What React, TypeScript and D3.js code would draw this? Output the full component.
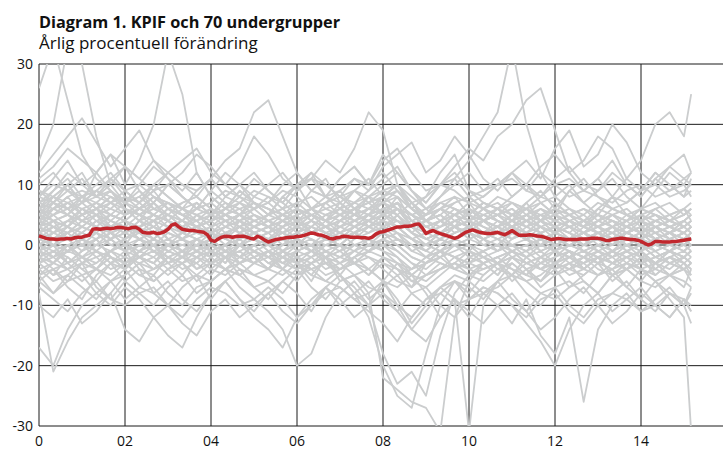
import React from 'react';
import * as d3 from 'd3';

// KPIF, annual % change, monthly from Jan 2000
const kpif = [
  1.5, 1.3, 1.1, 1.0, 1.0, 0.9, 1.0, 1.0, 1.1, 1.0, 1.2, 1.3,
  1.3, 1.5, 1.6, 2.6, 2.7, 2.6, 2.7, 2.8, 2.7, 2.8, 2.95, 2.9,
  2.8, 2.7, 2.9, 2.95, 2.6, 2.1, 2.0, 2.0, 2.1, 1.9, 2.0, 2.2,
  2.6, 3.3, 3.5, 3.0, 2.6, 2.5, 2.4, 2.4, 2.3, 2.2, 2.1, 1.7,
  0.8, 0.6, 1.0, 1.3, 1.45, 1.4, 1.3, 1.4, 1.45, 1.45, 1.3, 1.1,
  1.0, 1.45, 1.2, 0.8, 0.5, 0.7, 0.9, 1.0, 1.1, 1.2, 1.3, 1.3,
  1.4, 1.45, 1.6, 1.8, 2.0, 1.9, 1.7, 1.6, 1.4, 1.1, 1.0, 1.2,
  1.3, 1.45, 1.4, 1.3, 1.3, 1.3, 1.2, 1.2, 1.1, 1.3, 1.8, 2.1,
  2.2, 2.4, 2.6, 2.8, 3.0, 3.0, 3.1, 3.1, 3.2, 3.4, 3.5, 2.8,
  1.9, 2.2, 2.4, 2.1, 1.9, 1.7, 1.5, 1.3, 1.1, 1.3, 1.7, 2.1,
  2.3, 2.5, 2.3, 2.1, 2.0, 1.9, 1.9, 2.0, 2.1, 1.9, 1.7, 2.0,
  2.4, 2.0, 1.6, 1.6, 1.6, 1.7, 1.6, 1.5, 1.45, 1.3, 1.1, 0.9,
  1.0, 1.1, 1.0, 0.9, 0.9, 0.9, 0.9, 1.0, 1.0, 1.0, 1.1, 1.1,
  1.1, 1.0, 0.8, 0.75, 0.9, 1.0, 1.1, 1.1, 1.0, 0.9, 0.9, 0.8,
  0.6, 0.3, 0.0, 0.2, 0.6, 0.6, 0.5, 0.5, 0.5, 0.6, 0.6, 0.7,
  0.8, 0.9, 1.0,
];

// subgroups are read every fourth month (Jan, May, Sep) plus Mar 2015
const subMonths = [...d3.range(0, 181, 4), 182];

const sub01 = [3,4,5,4,6,5,4,3,4,5,3,2,1,2,3,2, 3,4,3,2,3,4,5,4,6,5,2,1,2,3,4,3, 2,3,2,1,2,1,0,1,2,1,0,1,2,1,2];
const sub02 = [-1,0,1,2,1,3,2,1,0,-1,0,1,2,1,0,1, 0,-1,-2,-1,0,1,2,3,4,3,1,0,-1,0,1,2, 1,0,-1,0,1,0,-1,-2,-1,0,-1,0,1,0,-1];
const sub03 = [5,6,7,8,7,6,5,6,7,5,4,3,4,5,4,3, 4,5,6,5,4,5,6,7,8,6,4,3,4,5,6,5, 4,3,4,5,4,3,2,3,4,3,2,3,4,3,4];
const sub04 = [-3,-2,-4,-3,-2,-1,-2,-3,-4,-2,-1,0,-1,-2,-3,-2, -1,-2,-3,-4,-3,-2,-1,-2,-3,-5,-4,-2,-1,-2,-3,-4, -3,-2,-3,-4,-5,-4,-3,-2,-3,-4,-3,-2,-3,-4,-3];
const sub05 = [2,1,3,2,4,3,2,4,3,2,1,0,2,1,3,2, 1,2,1,3,2,1,2,3,2,3,4,2,1,3,2,1, 2,3,1,2,3,2,1,2,1,2,3,1,2,1,1];
const sub06 = [7,8,6,7,9,8,6,5,6,7,6,5,4,5,6,7, 6,5,4,5,6,7,5,4,6,7,5,3,4,6,5,4, 5,6,4,3,4,5,6,5,4,3,5,6,4,5,6];
const sub07 = [0,-2,-1,1,0,-1,-3,-2,0,1,-1,-2,0,-1,-2,0, 1,-1,0,2,1,0,-1,1,2,0,-2,-3,-1,0,-2,-1, 0,-1,-2,0,-1,-2,-1,0,-2,-1,-3,-2,-1,-2,-1];
const sub08 = [4,3,2,3,5,4,3,1,2,4,3,2,1,3,2,4, 3,2,3,4,2,3,5,6,5,7,3,2,3,4,3,2, 3,4,2,3,2,1,2,3,1,2,3,2,1,2,3];
const sub09 = [-5,-4,-3,-5,-4,-2,-3,-5,-6,-4,-3,-2,-4,-5,-3,-2, -4,-5,-3,-2,-4,-3,-5,-4,-2,-3,-6,-5,-3,-4,-5,-3, -2,-4,-5,-3,-4,-2,-3,-5,-4,-3,-5,-4,-2,-3,-4];
const sub10 = [1,2,4,3,2,0,1,2,3,1,0,-1,1,2,0,1, 2,3,1,0,2,1,3,4,2,1,0,-1,1,2,3,1, 0,2,1,-1,0,1,2,0,1,-1,0,1,2,0,1];
const sub11 = [6,5,7,6,4,5,7,8,6,5,3,4,2,3,5,4, 3,2,4,5,3,4,6,5,7,8,4,2,3,5,6,4, 3,5,6,4,2,3,4,2,3,5,4,2,3,4,5];
const sub12 = [-2,-1,0,-2,-3,-1,0,1,-1,-2,-4,-3,-1,0,-2,-3, -2,0,1,-1,-2,-3,-1,0,1,-1,-3,-4,-2,-1,0,-2, -3,-1,0,-2,-3,-4,-2,-1,-3,-2,-1,-3,-4,-2,-3];
const sub13 = [3,5,6,4,3,5,4,2,3,5,4,3,2,4,5,3, 2,4,3,5,4,2,3,5,4,6,5,3,4,2,3,4, 5,3,2,4,3,1,2,4,3,2,1,3,2,4,3];
const sub14 = [0,1,-1,0,2,1,-1,0,1,-1,-2,0,1,-1,0,2, 1,-1,0,1,-1,0,2,1,3,2,0,-1,1,0,-1,1, 2,0,-1,1,0,-1,-2,0,1,-1,0,-2,-1,0,1];
const sub15 = [8,7,6,8,9,7,5,6,8,7,5,4,6,5,3,4, 5,6,4,3,5,6,7,6,8,9,6,4,5,7,8,6, 5,4,6,5,3,4,5,3,4,2,3,4,3,2,3];
const sub16 = [-4,-3,-1,-2,-4,-5,-3,-2,-4,-3,-1,-2,-3,-4,-2,-1, -3,-4,-5,-3,-2,-1,-3,-4,-6,-7,-5,-3,-2,-4,-3,-2, -4,-5,-3,-2,-1,-3,-4,-2,-1,-3,-4,-5,-3,-2,-3];
const sub17 = [2,3,1,2,4,2,1,3,5,4,2,1,0,2,3,1, 0,1,3,2,1,0,2,4,3,5,2,1,0,2,3,2, 1,2,4,3,1,0,1,2,0,1,2,0,-1,0,1];
const sub18 = [5,4,3,5,6,8,7,5,4,6,5,3,4,6,7,5, 4,3,5,6,4,3,4,5,6,4,3,5,6,4,5,7, 6,4,3,5,4,3,2,4,5,3,2,4,5,3,4];
const sub19 = [-1,1,2,0,-1,1,3,2,0,-2,-1,1,0,-1,1,2, 0,-2,-1,0,1,2,0,-1,1,2,1,-1,-2,0,1,0, -1,1,2,0,-1,1,0,-1,-2,0,-1,1,0,-1,0];
const sub20 = [4,6,5,3,2,4,6,5,3,2,1,3,4,2,1,3, 4,5,3,2,4,5,3,4,5,6,3,1,2,4,5,3, 2,4,5,3,2,1,3,2,1,2,3,1,2,3,2];
const sub21 = [-3,-5,-4,-2,-1,-3,-4,-2,-3,-5,-3,-1,-2,-4,-5,-3, -1,-2,-4,-3,-1,-2,-3,-1,-2,-4,-5,-6,-4,-3,-1,-2, -3,-1,-2,-4,-3,-2,-4,-5,-3,-2,-1,-3,-2,-4,-3];
const sub22 = [1,0,2,4,3,1,2,4,2,0,1,3,2,0,1,2, 3,1,0,2,3,1,2,3,4,2,-1,0,2,1,3,4, 2,1,3,2,0,1,2,1,0,2,1,0,1,2,1];
const sub23 = [6,7,9,8,6,7,8,6,5,7,6,4,5,7,6,4, 5,6,7,5,4,6,5,4,6,7,5,6,4,5,6,4, 5,6,4,5,6,4,3,5,4,3,4,5,3,4,5];
const sub24 = [0,-1,-3,-2,0,1,-1,-2,-1,0,-2,-3,-1,-2,0,-1, -2,-3,-1,0,-1,-2,0,1,-1,-2,-4,-3,-1,-2,-3,-1, 0,-2,-1,-3,-2,0,-1,-2,-3,-1,-2,-1,-3,-2,-1];
const sub25 = [26,33,24,15,11,9,6,5,7,4,3,5,6,4,3,5, 4,2,3,5,4,3,2,4,5,3,1,2,4,3,2,4, 3,2,1,3,2,4,3,2,1,3,2,1,2,3,2];
const sub26 = [14,20,33,30,18,10,7,9,6,5,7,8,6,4,5,7, 6,4,5,6,8,7,5,6,7,9,6,4,5,3,4,6, 5,7,6,4,5,6,4,3,5,4,6,5,4,3,4];
const sub27 = [-17,-20,-14,-10,-8,-6,-9,-7,-5,-8,-10,-7,-6,-4,-5,-7, -6,-8,-5,-4,-6,-7,-9,-8,-6,-10,-12,-9,-7,-5,-6,-8, -7,-5,-6,-8,-9,-7,-6,-8,-5,-4,-6,-7,-5,-6,-7];
const sub28 = [-8,-21,-16,-12,-10,-8,-5,-3,-6,-4,-2,-3,-5,-2,-1,-3, -4,-2,-3,-1,-2,-4,-3,-1,0,-2,-5,-3,-1,-2,-4,-3, -2,-1,-3,-4,-2,-1,-2,-3,-1,-2,-4,-3,-2,-1,-2];
const sub29 = [5,8,10,7,12,15,10,14,20,32,25,12,8,6,9,7, 5,8,10,6,4,7,9,8,5,6,3,4,6,5,7,4, 3,5,6,4,7,5,3,4,6,5,3,4,5,6,4];
const sub30 = [-2,-4,-6,-5,-8,-10,-7,-9,-12,-15,-17,-12,-8,-6,-9,-11, -8,-6,-4,-7,-9,-6,-5,-7,-8,-10,-14,-11,-8,-6,-7,-9, -6,-5,-8,-10,-7,-6,-8,-5,-4,-7,-9,-6,-8,-10,-7];
const sub31 = [10,12,9,11,8,10,13,11,9,12,10,8,11,14,16,22, 24,18,12,9,8,11,13,10,14,16,12,9,10,11,8,9, 10,12,9,8,10,11,9,8,7,9,10,8,9,11,10];
const sub32 = [-6,-4,-7,-9,-5,-3,-6,-8,-10,-7,-5,-8,-6,-4,-7,-9, -11,-14,-20,-18,-12,-8,-6,-9,-7,-5,-8,-10,-7,-6,-9,-8, -6,-9,-11,-8,-7,-10,-12,-9,-8,-6,-9,-11,-8,-10,-13];
const sub33 = [3,6,8,5,7,9,6,4,7,10,8,6,9,7,5,8, 10,12,9,11,14,12,16,22,19,10,6,8,12,15,9,7, 6,8,10,7,5,9,11,8,6,7,9,12,10,8,9];
const sub34 = [-3,-5,-2,-4,-6,-3,-1,-4,-5,-2,-3,-6,-4,-2,-5,-3, -1,-4,-6,-3,-2,-5,-8,-12,-20,-25,-27,-18,-10,-6,-8,-5, -3,-6,-4,-7,-5,-3,-6,-8,-5,-4,-6,-3,-5,-7,-4];
const sub35 = [2,0,-3,-1,1,-2,-4,-1,0,-3,-2,1,-1,-3,0,-2, -4,-1,-3,-5,-2,-6,-5,-8,-22,-24,-26,-27,-31,-12,-6,-3, -5,-2,-4,-6,-3,-1,-4,-2,-5,-3,-1,-4,-2,-3,-5];
const sub36 = [-1,-3,0,-2,-4,-1,1,-2,-3,0,-1,-4,-2,0,-3,-1, -2,-4,-1,0,-3,-5,-2,-4,-6,-3,-5,-8,-12,-9,-31,-10, -6,-3,-5,-2,-4,-7,-5,-3,-6,-4,-2,-5,-3,-4,-6];
const sub37 = [4,7,5,8,6,3,5,7,9,6,4,7,5,8,10,7, 5,8,6,9,11,7,5,8,10,12,9,6,8,11,14,18, 22,33,20,12,8,10,7,9,11,8,6,9,12,10,8];
const sub38 = [8,11,14,10,12,9,7,10,13,11,8,6,9,12,10,8, 7,10,12,9,8,11,13,10,15,12,9,7,10,13,16,14, 18,20,24,26,19,12,9,11,14,10,8,11,13,15,12];
const sub39 = [-5,-8,-6,-3,-7,-9,-6,-4,-8,-10,-7,-5,-9,-6,-4,-7, -9,-6,-8,-11,-7,-5,-8,-10,-6,-9,-13,-10,-7,-9,-12,-8, -10,-13,-9,-15,-18,-12,-26,-14,-10,-8,-11,-9,-7,-10,-8];
const sub40 = [2,4,1,3,5,2,0,3,4,1,2,5,3,1,4,2, 0,3,5,2,1,4,6,3,2,5,7,4,2,3,6,4, 3,5,7,4,6,9,7,5,8,11,14,20,22,18,25];
const sub41 = [-2,0,-3,-1,1,-2,-4,-1,0,-3,-5,-2,-1,-3,0,-2, -4,-1,-3,-6,-2,0,-3,-5,-2,-4,-7,-3,-1,-4,-2,-3, -5,-2,-4,-6,-3,-1,-4,-2,-5,-7,-4,-6,-9,-12,-31];
const sub42 = [7,9,12,10,8,11,13,9,7,10,12,15,13,10,8,11, 9,7,10,12,8,6,9,11,8,10,7,5,8,10,12,9, 11,8,10,13,15,12,14,18,16,11,9,12,10,8,11];
const sub43 = [-10,-12,-9,-13,-11,-8,-14,-16,-12,-10,-13,-15,-11,-9,-12,-10, -8,-11,-13,-10,-7,-9,-12,-10,-8,-11,-14,-16,-12,-9,-11,-13, -10,-8,-11,-14,-12,-9,-7,-10,-13,-11,-8,-10,-12,-9,-11];
const sub44 = [12,15,18,21,17,13,16,19,14,11,9,12,8,6,9,7, 5,8,6,4,7,9,6,5,8,10,7,4,6,8,5,7, 6,4,7,9,6,5,3,6,8,5,4,6,7,5,6];
const sub45 = [4,5,3,6,7,5,4,6,8,6,5,3,4,6,5,3, 2,4,6,5,3,4,6,7,5,8,6,4,3,5,4,2, 3,5,4,2,3,4,2,1,3,4,2,3,1,2,3];
const sub46 = [-2,-3,-1,0,-2,-4,-3,-1,-2,0,1,-1,-3,-2,0,-1, -3,-2,0,-1,-3,-4,-2,-1,0,-1,-3,-5,-4,-2,-1,-3, -2,-1,-3,-2,0,-1,-2,-3,-1,0,-2,-3,-1,-2,-1];
const sub47 = [9,8,10,7,8,9,7,8,10,8,6,7,5,6,8,7, 6,5,7,8,6,5,7,8,9,10,7,5,6,7,8,6, 7,5,6,8,7,5,4,6,5,4,6,5,4,5,6];
const sub48 = [1,3,2,0,1,2,0,-1,1,3,2,1,-1,0,2,1, -1,0,2,1,0,-1,1,2,3,1,0,-2,-1,1,2,0, 1,-1,0,1,-1,-2,0,1,-1,0,1,-1,0,1,0];
const sub49 = [6,4,5,7,5,3,4,6,5,4,2,3,5,4,2,3, 5,4,2,3,5,6,4,3,5,4,2,4,5,3,2,4, 5,3,4,6,5,3,4,5,3,2,4,3,2,4,3];
const sub50 = [-4,-6,-5,-3,-4,-6,-5,-3,-2,-4,-6,-5,-3,-2,-4,-5, -6,-4,-2,-3,-5,-4,-3,-2,-4,-6,-7,-5,-4,-3,-5,-6, -4,-3,-5,-6,-4,-3,-2,-4,-5,-3,-4,-6,-5,-4,-5];
const sub51 = [3,2,4,5,3,2,3,5,4,3,1,2,3,1,0,2, 3,1,2,4,3,2,1,3,5,4,3,1,2,3,1,2, 4,2,1,2,3,2,0,1,2,0,1,3,2,1,2];
const sub52 = [7,6,8,9,8,7,9,10,8,6,7,8,6,5,7,6, 8,7,5,6,7,8,6,7,9,8,6,5,7,6,5,7, 6,7,5,6,4,5,6,4,5,6,4,5,4,6,5];
const sub53 = [0,2,1,-1,0,2,3,1,0,2,1,-1,-2,0,1,-1, 0,1,-1,-2,0,1,2,0,2,3,1,0,-1,1,0,-1, 0,2,1,0,-1,0,1,-1,0,2,1,0,-1,1,0];
const sub54 = [5,7,6,4,5,6,8,7,5,4,6,5,3,4,5,6, 4,3,5,6,5,4,3,5,6,7,5,4,6,5,3,4, 6,5,3,4,5,3,4,3,2,4,5,3,4,3,4];
const sub55 = [-1,-2,0,1,-1,-3,-2,0,-1,-3,-2,-1,0,-2,-1,0, -2,-1,1,0,-2,-1,0,-1,1,0,-2,-3,-2,0,-1,-2, -1,0,-2,-1,-3,-2,-1,-3,-2,-1,0,-2,-1,-3,-2];
const sub56 = [2,4,3,1,3,5,4,2,1,3,4,2,3,5,4,2, 1,3,4,2,1,3,4,5,3,4,2,0,1,3,4,2, 3,1,2,4,2,3,1,2,3,1,2,0,1,2,1];
const sub57 = [8,10,9,7,9,11,8,7,9,10,8,6,7,9,8,6, 7,9,8,6,7,8,9,7,8,10,8,6,7,8,7,6, 8,7,6,7,8,6,5,7,6,5,6,7,5,6,7];
const sub58 = [-3,-1,-2,-4,-3,-1,0,-2,-3,-1,-2,-4,-3,-1,-2,-3, -1,-3,-4,-2,-1,-3,-2,0,-1,-3,-4,-2,-3,-4,-2,-1, -3,-2,-4,-3,-1,-2,-3,-1,-2,-4,-2,-3,-1,-2,-3];
const sub59 = [4,2,3,5,6,4,3,2,4,6,5,4,2,3,4,5, 3,4,6,4,3,2,4,5,4,6,5,3,2,4,3,5, 4,3,5,3,2,4,3,2,3,1,2,4,3,2,3];
const sub60 = [1,0,-1,1,2,0,-1,1,2,0,-1,0,1,-1,-2,0, 1,2,0,-1,1,0,2,1,0,1,-1,-2,0,1,2,1, -1,0,1,-1,0,1,-1,0,-1,1,0,-1,0,-1,0];
const sub61 = [6,8,7,5,6,8,7,6,8,7,5,6,7,5,4,6, 7,5,4,6,7,5,6,8,7,6,4,5,7,6,4,5, 6,4,5,7,5,4,3,5,4,3,5,4,3,4,5];
const sub62 = [-5,-3,-4,-6,-4,-2,-3,-5,-4,-2,-3,-5,-6,-4,-3,-5, -4,-2,-3,-5,-6,-4,-3,-5,-3,-4,-6,-7,-5,-3,-4,-5, -3,-4,-6,-5,-3,-4,-5,-3,-4,-2,-3,-4,-5,-3,-4];
const sub63 = [3,1,2,4,3,1,2,3,1,0,2,3,1,2,3,1, 2,0,1,3,2,1,3,2,4,3,1,0,2,3,2,1, 2,3,1,0,2,1,0,2,1,0,1,2,0,1,2];
const sub64 = [5,3,4,6,5,7,6,4,5,3,4,6,5,3,4,2, 3,5,4,2,3,5,4,6,7,5,3,4,5,3,4,6, 4,3,5,4,3,2,4,3,2,3,4,2,3,2,3];
const sub65 = [11,13,16,14,12,15,13,11,14,12,10,9,11,8,10,12, 9,7,10,11,8,9,11,10,12,9,7,8,10,9,7,8, 10,11,9,12,10,8,9,11,8,7,9,10,8,9,10];
const sub66 = [-7,-9,-11,-8,-6,-9,-10,-8,-7,-10,-12,-9,-7,-8,-10,-9, -7,-9,-12,-10,-8,-7,-9,-11,-13,-16,-12,-9,-8,-10,-9,-7, -8,-10,-12,-9,-8,-11,-13,-10,-8,-9,-11,-10,-8,-9,-10];
const sub67 = [-1,-2,0,-3,-1,-2,-4,-2,-1,-3,-2,0,-2,-1,-3,-2, -1,-3,-2,-4,-3,-5,-7,-10,-18,-23,-21,-25,-15,-8,-5,-4, -3,-5,-2,-4,-3,-5,-4,-2,-3,-4,-2,-3,-5,-4,-3];
const sub68 = [6,9,11,8,10,12,9,7,10,8,6,9,11,8,7,9, 8,6,9,11,10,8,7,9,11,13,9,7,10,12,9,8, 10,12,14,11,16,19,13,15,20,17,12,10,13,11,12];
const sub69 = [-6,-8,-5,-7,-9,-6,-4,-7,-8,-6,-9,-11,-8,-6,-9,-12, -14,-17,-12,-9,-7,-10,-8,-6,-9,-11,-8,-7,-10,-12,-9,-7, -8,-10,-13,-16,-20,-14,-10,-8,-11,-9,-7,-10,-12,-9,-11];
const sub70 = [9,7,10,12,8,11,9,7,10,12,14,16,12,10,13,18, 15,11,9,12,10,8,11,9,13,15,17,12,14,18,15,11, 9,12,10,8,11,13,10,9,12,10,8,11,9,10,12];

const subgroups = [
  sub01, sub02, sub03, sub04, sub05, sub06, sub07, sub08, sub09, sub10,
  sub11, sub12, sub13, sub14, sub15, sub16, sub17, sub18, sub19, sub20,
  sub21, sub22, sub23, sub24, sub25, sub26, sub27, sub28, sub29, sub30,
  sub31, sub32, sub33, sub34, sub35, sub36, sub37, sub38, sub39, sub40,
  sub41, sub42, sub43, sub44, sub45, sub46, sub47, sub48, sub49, sub50,
  sub51, sub52, sub53, sub54, sub55, sub56, sub57, sub58, sub59, sub60,
  sub61, sub62, sub63, sub64, sub65, sub66, sub67, sub68, sub69, sub70,
];

const yTicks = [-30, -20, -10, 0, 10, 20, 30];
const xTickYears = [0, 2, 4, 6, 8, 10, 12, 14];
const xTickLabels = ['0', '02', '04', '06', '08', '10', '12', '14'];

const title = 'Diagram 1. KPIF och 70 undergrupper';
const subtitle = 'Årlig procentuell förändring';

export default function App() {
  const width = 723;
  const height = 450;
  const left = 39;
  const top = 64;
  const bottom = 426;
  const font = "'Open Sans', 'Noto Sans', sans-serif";

  // 43 px per year
  const x = d3.scaleLinear().domain([0, 192]).range([left, left + 16 * 43]);
  const y = d3.scaleLinear().domain([-30, 30]).range([bottom, top]);

  const greyLine = d3.line<number>()
    .x((_, i) => x(subMonths[i]))
    .y(d => y(d));
  const redLine = d3.line<number>()
    .x((_, i) => x(i))
    .y(d => y(d));

  return (
    <svg width={width} height={height}
      style={{ position: 'absolute', left: 0, top: 0, background: '#fff' }}>
      <defs>
        <clipPath id="plot">
          <rect x={left} y={top} width={width - left} height={bottom - top} />
        </clipPath>
      </defs>
      <text x={left} y={28} fontFamily={font} fontWeight={700} fontSize={16.3} fill="#111">{title}</text>
      <text x={left} y={49} fontFamily={font} fontSize={17} fill="#111">{subtitle}</text>

      {yTicks.map(t => (
        <g key={'y' + t}>
          <line x1={left} x2={width} y1={y(t)} y2={y(t)} stroke="#1a1a1a" strokeWidth={1} />
          <text x={33} y={y(t)} dy="0.35em" textAnchor="end" fontFamily={font} fontSize={14} fill="#111">{t}</text>
        </g>
      ))}
      {xTickYears.map((yr, i) => (
        <g key={'x' + yr}>
          <line x1={x(yr * 12)} x2={x(yr * 12)} y1={top} y2={bottom} stroke="#1a1a1a" strokeWidth={1} />
          <text x={x(yr * 12)} y={446} textAnchor="middle" fontFamily={font} fontSize={14} fill="#111">{xTickLabels[i]}</text>
        </g>
      ))}

      <g clipPath="url(#plot)">
        {subgroups.map((s, i) => (
          <path key={i} d={greyLine(s) || ''} fill="none" stroke="#cbcdce" strokeWidth={1.8} strokeLinejoin="round" />
        ))}
      </g>
      <path d={redLine(kpif) || ''} fill="none" stroke="#c1272d" strokeWidth={3.5} strokeLinejoin="round" />
    </svg>
  );
}
